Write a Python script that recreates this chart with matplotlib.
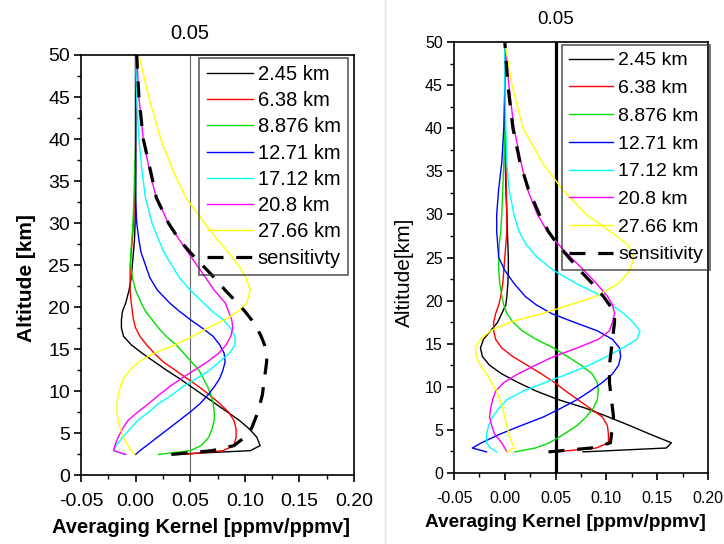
import matplotlib
matplotlib.use("Agg")
import matplotlib.pyplot as plt
from matplotlib.lines import Line2D
import numpy as np

plt.rcParams['font.family'] = ['Liberation Sans', 'DejaVu Sans']
plt.rcParams['axes.unicode_minus'] = False

# altitude levels [km]
alt = [2.45, 2.9, 3.5, 4.5, 5.5, 6.5, 7.5, 8.5, 9.5, 10.5,
       11.5, 12.5, 13.5, 14.5, 15.5, 16.5, 17.5, 18.5, 19.5, 20.5,
       22, 23.5, 25, 26.5, 28, 30, 33, 36, 40, 45, 50]

labels = ['2.45 km', '6.38 km', '8.876 km', '12.71 km', '17.12 km', '20.8 km', '27.66 km']
colors = ['black', '#ff0000', '#00e000', '#0000ff', '#00ffff', '#ff00ff', '#ffff00']

# left panel kernels
ak_l_245 = [0.033, 0.105, 0.114, 0.111, 0.104, 0.095, 0.084, 0.073, 0.062, 0.051,
            0.040, 0.028, 0.017, 0.006, -0.004, -0.011, -0.013, -0.013, -0.012, -0.009,
            -0.006, -0.004, -0.003, -0.002, -0.001, -0.0005, 0, 0, 0, 0, 0]
ak_l_638 = [0.045, 0.080, 0.090, 0.092, 0.092, 0.090, 0.085, 0.077, 0.068, 0.058,
            0.047, 0.036, 0.025, 0.017, 0.010, 0.004, 0.000, -0.002, -0.003, -0.004,
            -0.005, -0.005, -0.005, -0.004, -0.003, -0.002, -0.001, 0, 0, 0, 0]
ak_l_8876 = [0.021, 0.050, 0.060, 0.067, 0.070, 0.072, 0.072, 0.071, 0.069, 0.066,
             0.062, 0.058, 0.051, 0.044, 0.037, 0.028, 0.021, 0.015, 0.009, 0.005,
             0.000, -0.003, -0.0045, -0.0045, -0.0035, -0.0025, -0.0015, -0.001, 0, 0, 0]
ak_l_1271 = [0.000, 0.004, 0.010, 0.020, 0.030, 0.040, 0.050, 0.059, 0.066, 0.072,
             0.077, 0.080, 0.082, 0.081, 0.077, 0.071, 0.061, 0.050, 0.040, 0.031,
             0.020, 0.013, 0.009, 0.005, 0.003, 0.001, 0, 0, 0, 0, 0]
ak_l_1712 = [-0.010, -0.020, -0.018, -0.012, -0.005, 0.002, 0.012, 0.021, 0.033, 0.043,
             0.056, 0.068, 0.077, 0.086, 0.091, 0.091, 0.087, 0.080, 0.070, 0.062,
             0.050, 0.040, 0.033, 0.026, 0.021, 0.015, 0.009, 0.006, 0.003, 0.001, 0]
ak_l_208 = [-0.009, -0.020, -0.019, -0.016, -0.012, -0.007, 0.002, 0.012, 0.021, 0.031,
            0.042, 0.054, 0.066, 0.076, 0.083, 0.087, 0.089, 0.088, 0.085, 0.082,
            0.072, 0.064, 0.056, 0.048, 0.040, 0.030, 0.019, 0.013, 0.007, 0.003, 0.001]
ak_l_2766 = [-0.001, -0.004, -0.007, -0.011, -0.014, -0.016, -0.017, -0.017, -0.016, -0.014,
             -0.011, -0.005, 0.003, 0.017, 0.036, 0.052, 0.066, 0.082, 0.094, 0.102,
             0.105, 0.101, 0.094, 0.085, 0.075, 0.063, 0.046, 0.035, 0.023, 0.012, 0.003]
sens_l = [0.033, 0.070, 0.090, 0.100, 0.106, 0.109, 0.112, 0.114, 0.116, 0.117,
          0.118, 0.119, 0.120, 0.120, 0.118, 0.115, 0.111, 0.106, 0.100, 0.093,
          0.082, 0.072, 0.061, 0.050, 0.040, 0.030, 0.019, 0.014, 0.007, 0.003, 0.001]

# right panel kernels
ak_r_245 = [0.077, 0.159, 0.164, 0.143, 0.123, 0.102, 0.080, 0.053, 0.031, 0.013,
            -0.003, -0.015, -0.022, -0.024, -0.021, -0.014, -0.007, -0.003, 0.001, 0.002,
            0.003, 0.0035, 0.0035, 0.003, 0.0025, 0.002, 0.001, 0.0005, 0, 0, 0]
ak_r_638 = [0.050, 0.090, 0.102, 0.102, 0.101, 0.096, 0.084, 0.072, 0.060, 0.049,
            0.036, 0.022, 0.008, -0.003, -0.009, -0.011, -0.011, -0.009, -0.006, -0.004,
            -0.002, -0.001, 0.000, 0.001, 0.002, 0.002, 0.0015, 0.001, 0.0005, 0, 0]
ak_r_8876 = [0.010, 0.030, 0.044, 0.058, 0.071, 0.080, 0.087, 0.091, 0.092, 0.091,
             0.086, 0.075, 0.062, 0.048, 0.031, 0.017, 0.008, 0.002, -0.001, -0.003,
             -0.005, -0.006, -0.006, -0.0055, -0.004, -0.003, -0.002, -0.001, 0, 0, 0]
ak_r_1271 = [-0.018, -0.032, -0.023, -0.005, 0.016, 0.038, 0.055, 0.071, 0.084, 0.096,
             0.106, 0.112, 0.114, 0.113, 0.106, 0.091, 0.068, 0.046, 0.031, 0.020,
             0.009, 0.000, -0.006, -0.007, -0.008, -0.008, -0.006, -0.003, -0.001, 0, 0]
ak_r_1712 = [-0.008, -0.014, -0.018, -0.018, -0.016, -0.012, -0.006, 0.002, 0.018, 0.040,
             0.062, 0.083, 0.100, 0.116, 0.130, 0.133, 0.126, 0.117, 0.105, 0.096,
             0.070, 0.048, 0.032, 0.021, 0.014, 0.009, 0.004, 0.002, 0.001, 0, 0]
ak_r_208 = [0.002, 0.000, -0.003, -0.010, -0.013, -0.015, -0.014, -0.012, -0.009, -0.001,
            0.013, 0.030, 0.048, 0.071, 0.092, 0.103, 0.106, 0.108, 0.106, 0.101,
            0.090, 0.078, 0.065, 0.053, 0.042, 0.032, 0.022, 0.016, 0.009, 0.004, 0.000]
ak_r_2766 = [0.002, 0.009, 0.007, 0.004, 0.002, 0.000, -0.002, -0.005, -0.008, -0.013,
             -0.018, -0.024, -0.028, -0.029, -0.024, -0.014, 0.005, 0.037, 0.064, 0.090,
             0.112, 0.123, 0.127, 0.121, 0.104, 0.080, 0.056, 0.037, 0.018, 0.007, 0.000]
sens_r = [0.043, 0.085, 0.104, 0.105, 0.106, 0.107, 0.106, 0.105, 0.104, 0.103,
          0.103, 0.103, 0.104, 0.105, 0.106, 0.107, 0.108, 0.108, 0.103, 0.097,
          0.086, 0.074, 0.063, 0.052, 0.043, 0.034, 0.023, 0.015, 0.008, 0.003, 0.000]

kernels_l = [ak_l_245, ak_l_638, ak_l_8876, ak_l_1271, ak_l_1712, ak_l_208, ak_l_2766]
kernels_r = [ak_r_245, ak_r_638, ak_r_8876, ak_r_1271, ak_r_1712, ak_r_208, ak_r_2766]


def draw(ax, kernels, sens, sens_label, vcolor, vlw, fs_tick, fs_top, fs_leg, spacing, leg_anchor):
    ax.axvline(0.05, color=vcolor, lw=vlw, zorder=1)
    for k, c, lab in zip(kernels, colors, labels):
        ax.plot(k, alt, color=c, lw=1.0, label=lab, zorder=2)
    ax.plot(sens, alt, color='black', lw=2.3, dashes=(5, 4), label=sens_label, zorder=3)

    ax.set_xlim(-0.05, 0.20)
    ax.set_ylim(0, 50)
    ax.set_xticks(np.arange(-0.05, 0.201, 0.05))
    ax.set_xticks(np.arange(-0.025, 0.2, 0.05), minor=True)
    ax.set_yticks(np.arange(0, 51, 5))
    ax.set_yticks(np.arange(2.5, 50, 5), minor=True)
    ax.xaxis.set_major_formatter(matplotlib.ticker.FormatStrFormatter('%.2f'))
    ax.tick_params(which='major', direction='out', length=5, width=1.2,
                   labelsize=fs_tick, pad=3)
    ax.tick_params(axis='x', which='major', pad=8)
    ax.tick_params(which='minor', direction='out', length=3, width=1.0)
    for s in ax.spines.values():
        s.set_linewidth(1.2)

    ax.text(0.05, 1.052, '0.05', transform=ax.get_xaxis_transform(),
            ha='center', va='center', fontsize=fs_top)

    # legend box is see-through in the original
    leg = ax.legend(loc='upper right', bbox_to_anchor=leg_anchor, borderaxespad=0,
                    fontsize=fs_leg, handlelength=2.3, handletextpad=0.25,
                    labelspacing=spacing, borderpad=0.35, fancybox=False)
    leg.get_frame().set_facecolor('none')
    leg.get_frame().set_edgecolor('#333333')
    leg.get_frame().set_linewidth(1.2)


fig = plt.figure(figsize=(7.24, 5.44), dpi=100)
axL = fig.add_axes([0.1119, 0.1268, 0.3771, 0.7721])
axR = fig.add_axes([0.6271, 0.1305, 0.3508, 0.7923])

draw(axL, kernels_l, sens_l, 'sensitivty', '#666666', 0.8, 14, 14.5, 14.5, 0.36, (0.978, 0.993))
draw(axR, kernels_r, sens_r, 'sensitivity', 'black', 2.3, 11.5, 13.5, 14, 0.52, (1.008, 0.993))

axL.set_ylabel('Altitude [km]', fontsize=15, fontweight='bold')
axL.yaxis.set_label_coords(-0.165, 0.47)
axL.set_xlabel('Averaging Kernel [ppmv/ppmv]', fontsize=14.5, fontweight='bold')
axL.xaxis.set_label_coords(0.44, -0.102)

axR.set_ylabel('Altitude[km]', fontsize=15)
axR.yaxis.set_label_coords(-0.157, 0.466)
axR.set_xlabel('Averaging Kernel [ppmv/ppmv]', fontsize=13.7, fontweight='bold')
axR.xaxis.set_label_coords(0.44, -0.095)

# thin separator between the two pictures
fig.add_artist(Line2D([385 / 724, 385 / 724], [0, 1], color='#e0e0e0', lw=1.0))

fig.savefig('out.png', dpi=100)
